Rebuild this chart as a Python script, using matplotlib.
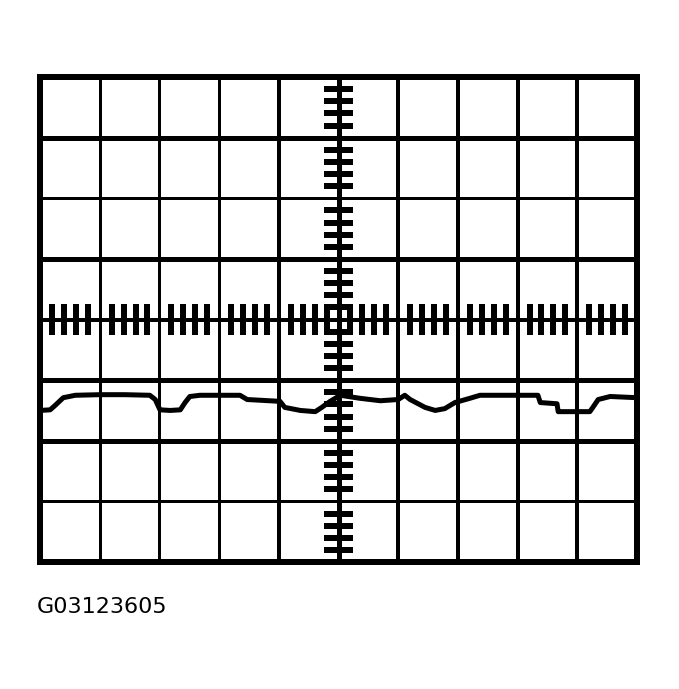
import numpy as np
import matplotlib
matplotlib.use("Agg")
import matplotlib.pyplot as plt

# screen is 10 x 8 divisions, center at (5, 0)
n_xdiv = 10
n_ydiv = 8

# captured trace (x in divisions, y in divisions)
trace_x = [0, 0.17, 0.25, 0.39, 0.59, 1.0, 1.42, 1.84, 1.93, 2.01, 2.18, 2.35, 2.43,
           2.51, 2.68, 3.35, 3.47, 4.02, 4.10, 4.36, 4.61, 4.72, 4.86, 5.03, 5.36,
           5.70, 6.0, 6.11, 6.20, 6.45, 6.62, 6.78, 6.95, 7.20, 7.37, 8.34, 8.38,
           8.66, 8.68, 9.21, 9.26, 9.35, 9.55, 10.0]
trace_y = [-1.50, -1.49, -1.42, -1.29, -1.25, -1.24, -1.24, -1.25, -1.32, -1.49,
           -1.50, -1.49, -1.37, -1.27, -1.25, -1.25, -1.32, -1.35, -1.45, -1.50,
           -1.52, -1.45, -1.35, -1.25, -1.30, -1.34, -1.32, -1.25, -1.32, -1.45,
           -1.50, -1.47, -1.37, -1.30, -1.25, -1.25, -1.37, -1.39, -1.52, -1.52,
           -1.45, -1.32, -1.27, -1.29]

label = "G03123605"

W, H = 679, 689
px = 72 / 100  # points per pixel at dpi 100

fig = plt.figure(figsize=(W / 100, H / 100), dpi=100)
ax = fig.add_axes([40 / W, 1 - 562 / H, (637 - 40) / W, (562 - 77) / H])
ax.set_xlim(0, n_xdiv)
ax.set_ylim(-n_ydiv / 2, n_ydiv / 2)
ax.set_xticks([])
ax.set_yticks([])
for s in ax.spines.values():
    s.set_linewidth(6 * px)

# graticule lines
vx = np.arange(1, n_xdiv)
vw = [3, 3, 3, 4, 5, 4, 4, 4, 4]
for x, w in zip(vx, vw):
    ax.axvline(x, color="black", lw=w * px, solid_capstyle="butt")
hy = np.arange(-3, 4)
hw = [3, 5, 5, 4, 5, 3, 5]
for y, w in zip(hy, hw):
    ax.axhline(y, color="black", lw=w * px, solid_capstyle="butt")

# minor ticks on the center axes
mx = [i + f for i in range(n_xdiv) for f in (0.2, 0.4, 0.6, 0.8)]
ax.vlines(mx, -0.26, 0.26, color="black", lw=6 * px, capstyle="butt")
my = [i + f for i in range(-4, 4) for f in (0.2, 0.4, 0.6, 0.8)]
ax.hlines(my, 4.75, 5.25, color="black", lw=6 * px, capstyle="butt")

ax.plot(trace_x, trace_y, color="black", lw=5 * px, solid_joinstyle="round")

fig.text(37 / W, 1 - 613 / H, label, fontsize=16, family="DejaVu Sans",
         ha="left", va="baseline")

fig.savefig("out.png", dpi=100)
